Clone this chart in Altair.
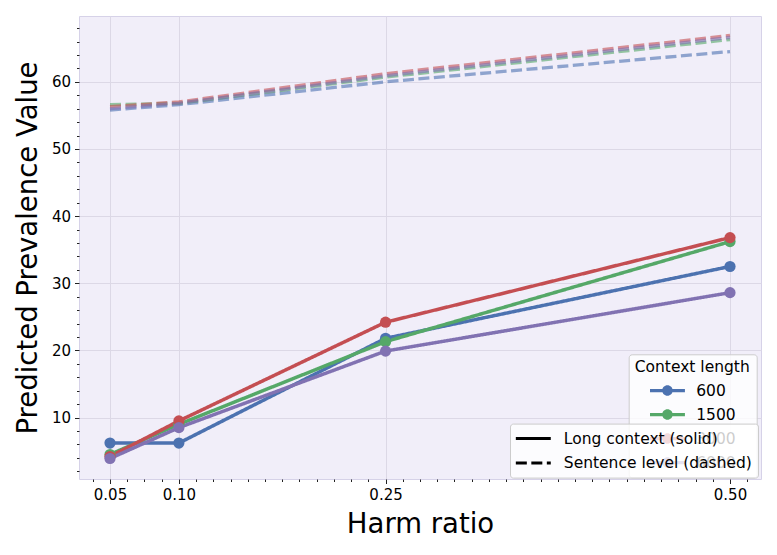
import altair as alt
import pandas as pd

ratios = [0.05, 0.10, 0.25, 0.50]
ctx_labels = ["600", "1500", "3000", "6000"]
ctx_colors = ["#4C72B0", "#55A868", "#C44E52", "#8172B2"]

long_600 = [6.2, 6.2, 21.8, 32.5]
long_1500 = [4.5, 9.0, 21.3, 36.2]
long_3000 = [4.2, 9.5, 24.2, 36.8]
long_6000 = [3.9, 8.5, 19.9, 28.6]

sent_600 = [55.8, 56.6, 60.0, 64.5]
sent_1500 = [56.6, 56.8, 60.7, 66.3]
sent_3000 = [56.3, 57.0, 61.2, 66.9]
sent_6000 = [56.0, 56.8, 60.9, 66.6]

type_labels = ["Long context (solid)", "Sentence level (dashed)"]

x_major = [0.05, 0.10, 0.25, 0.50]
x_minor = [0.0375, 0.0625, 0.075, 0.0875, 0.1125, 0.125, 0.1375, 0.15, 0.1625,
           0.175, 0.1875, 0.2, 0.2125, 0.225, 0.2375, 0.2625, 0.275, 0.2875,
           0.3, 0.3125, 0.325, 0.3375, 0.35, 0.3625, 0.375, 0.3875, 0.4,
           0.4125, 0.425, 0.4375, 0.45, 0.4625, 0.475, 0.4875, 0.5125]
y_major = [10, 20, 30, 40, 50, 60]
y_minor = [v for v in range(2, 70, 2) if v % 10 != 0]

rows = []
for lab, lv, sv in zip(ctx_labels,
                       [long_600, long_1500, long_3000, long_6000],
                       [sent_600, sent_1500, sent_3000, sent_6000]):
    for r, a, b in zip(ratios, lv, sv):
        rows.append({"ratio": r, "value": a, "ctx": lab, "type": type_labels[0]})
        rows.append({"ratio": r, "value": b, "ctx": lab, "type": type_labels[1]})
df = pd.DataFrame(rows)

FONT = "DejaVu Sans"
xmaj_test = "indexof([0.05,0.1,0.25,0.5], datum.value) >= 0"
ymaj_test = "datum.value % 10 == 0"

x_enc = alt.X(
    "ratio:Q",
    title="Harm ratio",
    scale=alt.Scale(domain=[0.0275, 0.5225], nice=False, zero=False),
    axis=alt.Axis(
        values=x_major + x_minor,
        labelExpr=f"{xmaj_test} ? format(datum.value, '.2f') : ''",
        tickSize={"condition": {"test": xmaj_test, "value": 4.5}, "value": 2.5},
        gridOpacity={"condition": {"test": xmaj_test, "value": 1}, "value": 0},
        labelOverlap=False,
        labelFlush=False,
        labelPadding=4,
        titlePadding=8,
    ),
)
y_enc = alt.Y(
    "value:Q",
    title="Predicted Prevalence Value",
    scale=alt.Scale(domain=[0.85, 69.8], nice=False, zero=False),
    axis=alt.Axis(
        values=y_major + y_minor,
        labelExpr=f"{ymaj_test} ? format(datum.value, 'd') : ''",
        tickSize={"condition": {"test": ymaj_test, "value": 4.5}, "value": 2.5},
        gridOpacity={"condition": {"test": ymaj_test, "value": 1}, "value": 0},
        labelOverlap=False,
        labelFlush=False,
        labelPadding=4,
        titlePadding=9,
    ),
)

color_scale = alt.Scale(domain=ctx_labels, range=ctx_colors)
dash_scale = alt.Scale(domain=type_labels, range=[[1, 0], [11, 4.5]])

line_marker_path = (
    "M-2.33,-0.22 L2.33,-0.22 L2.33,0.22 L-2.33,0.22 Z "
    "M0.7,0 A0.7,0.7 0 1,1 -0.7,0 A0.7,0.7 0 1,1 0.7,0 Z"
)
dash_path = "M-2.33,0 L2.33,0"

color_legend = alt.Legend(
    title="Context length",
    orient="none",
    legendX=549.7,
    legendY=338.3,
    symbolType=line_marker_path,
    symbolSize=225,
    symbolStrokeWidth=0,
    symbolOpacity=1,
    symbolOffset=25,
    labelOffset=21,
    padding=6,
    rowPadding=7,
    titlePadding=7,
    fillColor="rgba(255,255,255,0.8)",
    strokeColor="#CCCCCC",
    cornerRadius=3,
    zindex=1,
)
dash_legend = alt.Legend(
    title=None,
    orient="none",
    legendX=431,
    legendY=407.6,
    symbolType=dash_path,
    symbolSize=225,
    symbolStrokeColor="black",
    symbolStrokeWidth=3,
    symbolOpacity=1,
    symbolOffset=8.3,
    labelOffset=21.5,
    labelLimit=400,
    padding=6,
    rowPadding=6.5,
    fillColor="rgba(255,255,255,0.8)",
    strokeColor="#CCCCCC",
    cornerRadius=3,
    zindex=2,
)

dashed = alt.Chart(df).transform_filter(
    alt.datum.type == type_labels[1]
).mark_line(strokeWidth=3.3, opacity=0.6).encode(
    x=x_enc, y=y_enc,
    color=alt.Color("ctx:N", scale=color_scale, legend=None),
    strokeDash=alt.StrokeDash("type:N", scale=dash_scale, legend=dash_legend),
)
solid = alt.Chart(df).transform_filter(
    alt.datum.type == type_labels[0]
).mark_line(strokeWidth=3.5).encode(
    x=x_enc, y=y_enc,
    color=alt.Color("ctx:N", scale=color_scale, legend=None),
    strokeDash=alt.StrokeDash("type:N", scale=dash_scale, legend=dash_legend),
)
points = alt.Chart(df).transform_filter(
    alt.datum.type == type_labels[0]
).mark_circle(size=125, opacity=1).encode(
    x=x_enc, y=y_enc,
    color=alt.Color("ctx:N", scale=color_scale, legend=color_legend),
)

chart = alt.layer(dashed, solid, points).resolve_legend(
    color="independent"
).properties(
    width=682,
    height=463,
    autosize=alt.AutoSizeParams(type="none"),
    padding={"left": 71, "top": 8, "right": 8, "bottom": 60},
).configure_view(
    fill="#F1EEF9",
    stroke="#D6D2E8",
    strokeWidth=1,
).configure_axis(
    domain=False,
    gridColor="#DCD8E6",
    gridWidth=1,
    tickColor="#222222",
    tickWidth=1,
    labelFont=FONT,
    labelFontSize=15,
    labelColor="#000000",
    titleFont=FONT,
    titleFontSize=27.5,
    titleFontWeight="normal",
    titleColor="#000000",
).configure_legend(
    labelFont=FONT,
    labelFontSize=15.5,
    labelColor="#000000",
    titleFont=FONT,
    titleFontSize=15.5,
    titleFontWeight="normal",
    titleColor="#000000",
)

chart.save("out.html", embed_options={"renderer": "svg", "actions": False})
